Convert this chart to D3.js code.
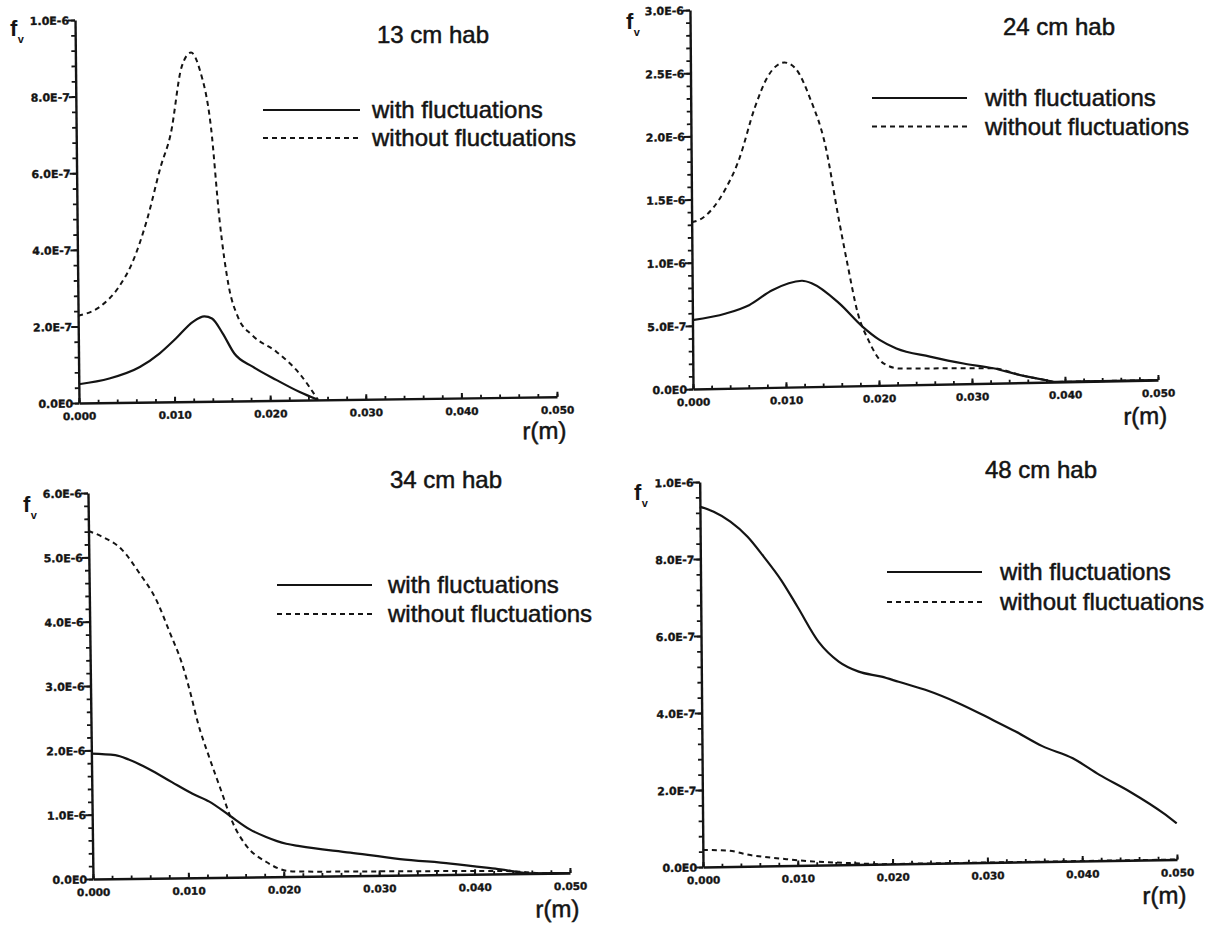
<!DOCTYPE html>
<html><head><meta charset="utf-8">
<script src="https://cdn.jsdelivr.net/npm/d3@7"></script>
<style>
html,body{margin:0;padding:0;background:#fff;}
svg{display:block;background:#fff;}
</style></head><body>
<svg id="chart" width="1223" height="926"></svg>
<script>
// ---------- data ----------
const xTickValues = [0, 0.01, 0.02, 0.03, 0.04, 0.05];
const xTickLabels = ["0.000", "0.010", "0.020", "0.030", "0.040", "0.050"];

const yTicks13 = [0, 2e-7, 4e-7, 6e-7, 8e-7, 1e-6];
const yLabels13 = ["0.0E0", "2.0E-7", "4.0E-7", "6.0E-7", "8.0E-7", "1.0E-6"];
const yTicks24 = [0, 5e-7, 1e-6, 1.5e-6, 2e-6, 2.5e-6, 3e-6];
const yLabels24 = ["0.0E0", "5.0E-7", "1.0E-6", "1.5E-6", "2.0E-6", "2.5E-6", "3.0E-6"];
const yTicks34 = [0, 1e-6, 2e-6, 3e-6, 4e-6, 5e-6, 6e-6];
const yLabels34 = ["0.0E0", "1.0E-6", "2.0E-6", "3.0E-6", "4.0E-6", "5.0E-6", "6.0E-6"];
const yTicks48 = [0, 2e-7, 4e-7, 6e-7, 8e-7, 1e-6];
const yLabels48 = ["0.0E0", "2.0E-7", "4.0E-7", "6.0E-7", "8.0E-7", "1.0E-6"];

const panelTitles = ["13 cm hab", "24 cm hab", "34 cm hab", "48 cm hab"];
const seriesNames = ["with fluctuations", "without fluctuations"];

// 13 cm
const r13With = [0, 0.0032, 0.0064, 0.0085, 0.0102, 0.0120, 0.0132, 0.0140, 0.0151, 0.0163, 0.0182, 0.0207, 0.0231, 0.0250];
const f13With = [4.9e-8, 6.3e-8, 9.2e-8, 1.27e-7, 1.65e-7, 2.08e-7, 2.22e-7, 2.16e-7, 1.77e-7, 1.24e-7, 8.9e-8, 5.3e-8, 2.1e-8, 0];
const r13Without = [0, 0.0022, 0.0043, 0.0057, 0.0073, 0.0088, 0.0099, 0.0111, 0.0121, 0.0130, 0.0141, 0.0149, 0.0158, 0.0167, 0.0182, 0.0207, 0.0231, 0.0250];
const f13Without = [2.28e-7, 2.49e-7, 3.02e-7, 3.63e-7, 4.75e-7, 6.14e-7, 7.01e-7, 8.74e-7, 9.11e-7, 8.65e-7, 7.16e-7, 4.73e-7, 2.98e-7, 2.20e-7, 1.71e-7, 1.27e-7, 6.9e-8, 0];

// 24 cm
const r24With = [0, 0.0036, 0.0061, 0.0086, 0.0118, 0.0129, 0.0158, 0.0183, 0.0201, 0.0219, 0.0255, 0.0291, 0.0323, 0.0352, 0.0380, 0.0390, 0.0500];
const f24With = [5.45e-7, 5.93e-7, 6.55e-7, 7.70e-7, 8.40e-7, 8.17e-7, 6.55e-7, 4.66e-7, 3.60e-7, 2.90e-7, 2.20e-7, 1.60e-7, 1.18e-7, 6.0e-8, 1.5e-8, 0, 0];
const r24Without = [0, 0.0009, 0.0036, 0.0051, 0.0069, 0.0083, 0.0101, 0.0113, 0.0129, 0.0144, 0.0158, 0.0167, 0.0178, 0.0189, 0.0205, 0.0223, 0.0270, 0.0323, 0.0352, 0.0380, 0.0390, 0.0500];
const f24Without = [1.32e-6, 1.34e-6, 1.57e-6, 1.80e-6, 2.22e-6, 2.46e-6, 2.57e-6, 2.52e-6, 2.27e-6, 1.92e-6, 1.33e-6, 9.7e-7, 5.7e-7, 3.6e-7, 1.74e-7, 1.30e-7, 1.25e-7, 1.18e-7, 6.0e-8, 1.5e-8, 0, 0];

// 34 cm
const r34With = [0, 0.0025, 0.0039, 0.0060, 0.0084, 0.0105, 0.0123, 0.0144, 0.0165, 0.0182, 0.0203, 0.0217, 0.0270, 0.0322, 0.0375, 0.0427, 0.0462, 0.0500];
const f34With = [1.95e-6, 1.92e-6, 1.85e-6, 1.70e-6, 1.49e-6, 1.31e-6, 1.18e-6, 9.6e-7, 7.4e-7, 6.2e-7, 5.1e-7, 4.7e-7, 3.6e-7, 2.5e-7, 1.7e-7, 7.0e-8, 0, 0];
const r34Without = [0, 0.0014, 0.0035, 0.0053, 0.0070, 0.0084, 0.0096, 0.0105, 0.0112, 0.0123, 0.0135, 0.0147, 0.0161, 0.0182, 0.0203, 0.0217, 0.0320, 0.0427, 0.0455, 0.0470, 0.0500];
const f34Without = [5.41e-6, 5.32e-6, 5.11e-6, 4.74e-6, 4.33e-6, 3.81e-6, 3.34e-6, 2.85e-6, 2.41e-6, 1.89e-6, 1.37e-6, 8.55e-7, 4.9e-7, 2.3e-7, 9.0e-8, 7.5e-8, 6.0e-8, 4.5e-8, 2.0e-8, 0, 0];

// 48 cm
const r48With = [0, 0.00145, 0.0032, 0.0050, 0.0067, 0.0085, 0.0102, 0.0124, 0.0145, 0.0166, 0.0190, 0.0208, 0.0236, 0.0271, 0.0307, 0.0331, 0.0359, 0.0391, 0.0419, 0.0451, 0.0486, 0.0500];
const f48With = [9.36e-7, 9.22e-7, 8.96e-7, 8.56e-7, 8.03e-7, 7.42e-7, 6.72e-7, 5.80e-7, 5.28e-7, 5.01e-7, 4.87e-7, 4.73e-7, 4.51e-7, 4.15e-7, 3.70e-7, 3.39e-7, 3.00e-7, 2.67e-7, 2.23e-7, 1.78e-7, 1.21e-7, 9.4e-8];
const r48Without = [0, 0.0025, 0.0050, 0.0088, 0.0120, 0.0148, 0.0170, 0.0190, 0.0500];
const f48Without = [4.4e-8, 4.2e-8, 2.9e-8, 1.7e-8, 9e-9, 5e-9, 2e-9, 0, 0];

// ---------- layout (positions only) ----------
const panels = [
  { title: panelTitles[0], rW: r13With, fW: f13With, rWo: r13Without, fWo: f13Without,
    yMax: 1e-6, yTicks: yTicks13, yLabels: yLabels13, yMinor: 4e-8,
    ox: 79, oy: 403, W: 478, H: 383, sx: 0.013, sy: 0.0104, rmY: 42,
    tX: 377, tY: 43, lx1: 263, lx2: 360, ly1: 110, ly2: 138, ltx: 372, fvX: 10, fvY: 36 },
  { title: panelTitles[1], rW: r24With, fW: f24With, rWo: r24Without, fWo: f24Without,
    yMax: 3e-6, yTicks: yTicks24, yLabels: yLabels24, yMinor: 1e-7,
    ox: 693, oy: 389, W: 465, H: 379, sx: 0.0194, sy: 0.008, rmY: 44,
    tX: 1003, tY: 35, lx1: 872, lx2: 967, ly1: 98, ly2: 126.5, ltx: 985, fvX: 626, fvY: 29 },
  { title: panelTitles[2], rW: r34With, fW: f34With, rWo: r34Without, fWo: f34Without,
    yMax: 6e-6, yTicks: yTicks34, yLabels: yLabels34, yMinor: 2e-7,
    ox: 93, oy: 879, W: 477, H: 386, sx: 0.0126, sy: 0.013, rmY: 44,
    tX: 390, tY: 488, lx1: 277, lx2: 372, ly1: 585, ly2: 614, ltx: 388, fvX: 23, fvY: 512 },
  { title: panelTitles[3], rW: r48With, fW: f48With, rWo: r48Without, fWo: f48Without,
    yMax: 1e-6, yTicks: yTicks48, yLabels: yLabels48, yMinor: 4e-8,
    ox: 703, oy: 867, W: 474, H: 385, sx: 0.0158, sy: 0.0086, rmY: 44,
    tX: 985, tY: 478, lx1: 887, lx2: 982, ly1: 572, ly2: 602, ltx: 1000, fvX: 634, fvY: 500 }
];

const INK = "#141414";
const TEXT_FONT = "'Liberation Sans', Arial, Helvetica, sans-serif";
const TICK_FONT = "'DejaVu Sans', Verdana, sans-serif";
const DASH = "5,4";

const svg = d3.select("#chart");
svg.append("rect").attr("width", 1223).attr("height", 926).attr("fill", "#fff");

panels.forEach(p => {
  const x = d3.scaleLinear().domain([0, 0.05]).range([0, p.W]);
  const y = d3.scaleLinear().domain([0, p.yMax]).range([0, -p.H]);

  // local frame with slight scan skew
  const g = svg.append("g")
    .attr("transform", `matrix(1,${-p.sx},${p.sy},1,${p.ox},${p.oy})`);

  // minor ticks
  const yMinorVals = d3.range(0, p.yMax + p.yMinor / 2, p.yMinor);
  g.append("g").call(d3.axisLeft(y).tickValues(yMinorVals).tickSize(4).tickFormat("").tickSizeOuter(0))
    .call(a => a.select(".domain").remove())
    .selectAll("line").attr("stroke", INK).attr("stroke-width", 1.8);
  const xMinorVals = d3.range(0, 0.05 + 0.001, 0.002);
  g.append("g").call(d3.axisBottom(x).tickValues(xMinorVals).tickSize(-3).tickFormat("").tickSizeOuter(0))
    .call(a => a.select(".domain").remove())
    .selectAll("line").attr("stroke", INK).attr("stroke-width", 1.8);

  // major y axis
  const ya = g.append("g").call(
    d3.axisLeft(y).tickValues(p.yTicks).tickSize(7).tickSizeOuter(0)
      .tickFormat((d, i) => p.yLabels[i]));
  ya.select(".domain").attr("stroke", INK).attr("stroke-width", 2.4);
  ya.selectAll(".tick line").attr("stroke", INK).attr("stroke-width", 2);
  ya.selectAll(".tick text")
    .attr("x", -6).attr("dy", "0.36em")
    .style("font-family", TICK_FONT).style("font-weight", "bold")
    .style("font-size", "11px").attr("fill", INK)
    .attr("stroke", INK).attr("stroke-width", 0.35);

  // major x axis
  const xa = g.append("g").call(
    d3.axisBottom(x).tickValues(xTickValues).tickSize(-5).tickSizeOuter(0)
      .tickFormat((d, i) => xTickLabels[i]));
  xa.select(".domain").attr("stroke", INK).attr("stroke-width", 2.4);
  xa.selectAll(".tick line").attr("stroke", INK).attr("stroke-width", 2);
  xa.selectAll(".tick text")
    .attr("y", 17).attr("dy", null)
    .style("font-family", TICK_FONT).style("font-weight", "bold")
    .style("font-size", "10.5px").attr("fill", INK)
    .attr("stroke", INK).attr("stroke-width", 0.35);

  // curves
  const line = d3.line().x(d => x(d[0])).y(d => y(d[1])).curve(d3.curveMonotoneX);
  g.append("path").datum(d3.zip(p.rWo, p.fWo)).attr("d", line)
    .attr("fill", "none").attr("stroke", INK).attr("stroke-width", 2)
    .attr("stroke-dasharray", DASH);
  g.append("path").datum(d3.zip(p.rW, p.fW)).attr("d", line)
    .attr("fill", "none").attr("stroke", INK).attr("stroke-width", 2.2);

  // r(m) label
  g.append("text").attr("x", p.W + 9).attr("y", p.rmY).attr("text-anchor", "end")
    .attr("font-family", TEXT_FONT).attr("font-size", 24).attr("fill", INK)
    .attr("stroke", INK).attr("stroke-width", 0.5)
    .text("r(m)");

  // f_v label
  const fv = svg.append("text").attr("x", p.fvX).attr("y", p.fvY)
    .attr("font-family", TEXT_FONT).attr("font-weight", "bold").attr("fill", INK);
  fv.append("tspan").attr("font-size", 22).text("f");
  fv.append("tspan").attr("font-size", 11).attr("dy", 7).attr("dx", 0.5).text("v");

  // title
  svg.append("text").attr("x", p.tX).attr("y", p.tY)
    .attr("font-family", TEXT_FONT).attr("font-size", 24).attr("fill", INK)
    .attr("stroke", INK).attr("stroke-width", 0.5)
    .text(p.title);

  // legend
  svg.append("line").attr("x1", p.lx1).attr("x2", p.lx2).attr("y1", p.ly1).attr("y2", p.ly1)
    .attr("stroke", INK).attr("stroke-width", 2.2);
  svg.append("line").attr("x1", p.lx1).attr("x2", p.lx2).attr("y1", p.ly2).attr("y2", p.ly2)
    .attr("stroke", INK).attr("stroke-width", 1.8).attr("stroke-dasharray", DASH);
  [p.ly1, p.ly2].forEach((ly, i) => {
    svg.append("text").attr("x", p.ltx).attr("y", ly + 8)
      .attr("font-family", TEXT_FONT).attr("font-size", 24).attr("fill", INK)
      .attr("stroke", INK).attr("stroke-width", 0.5)
      .text(seriesNames[i]);
  });
});
</script>
</body></html>
